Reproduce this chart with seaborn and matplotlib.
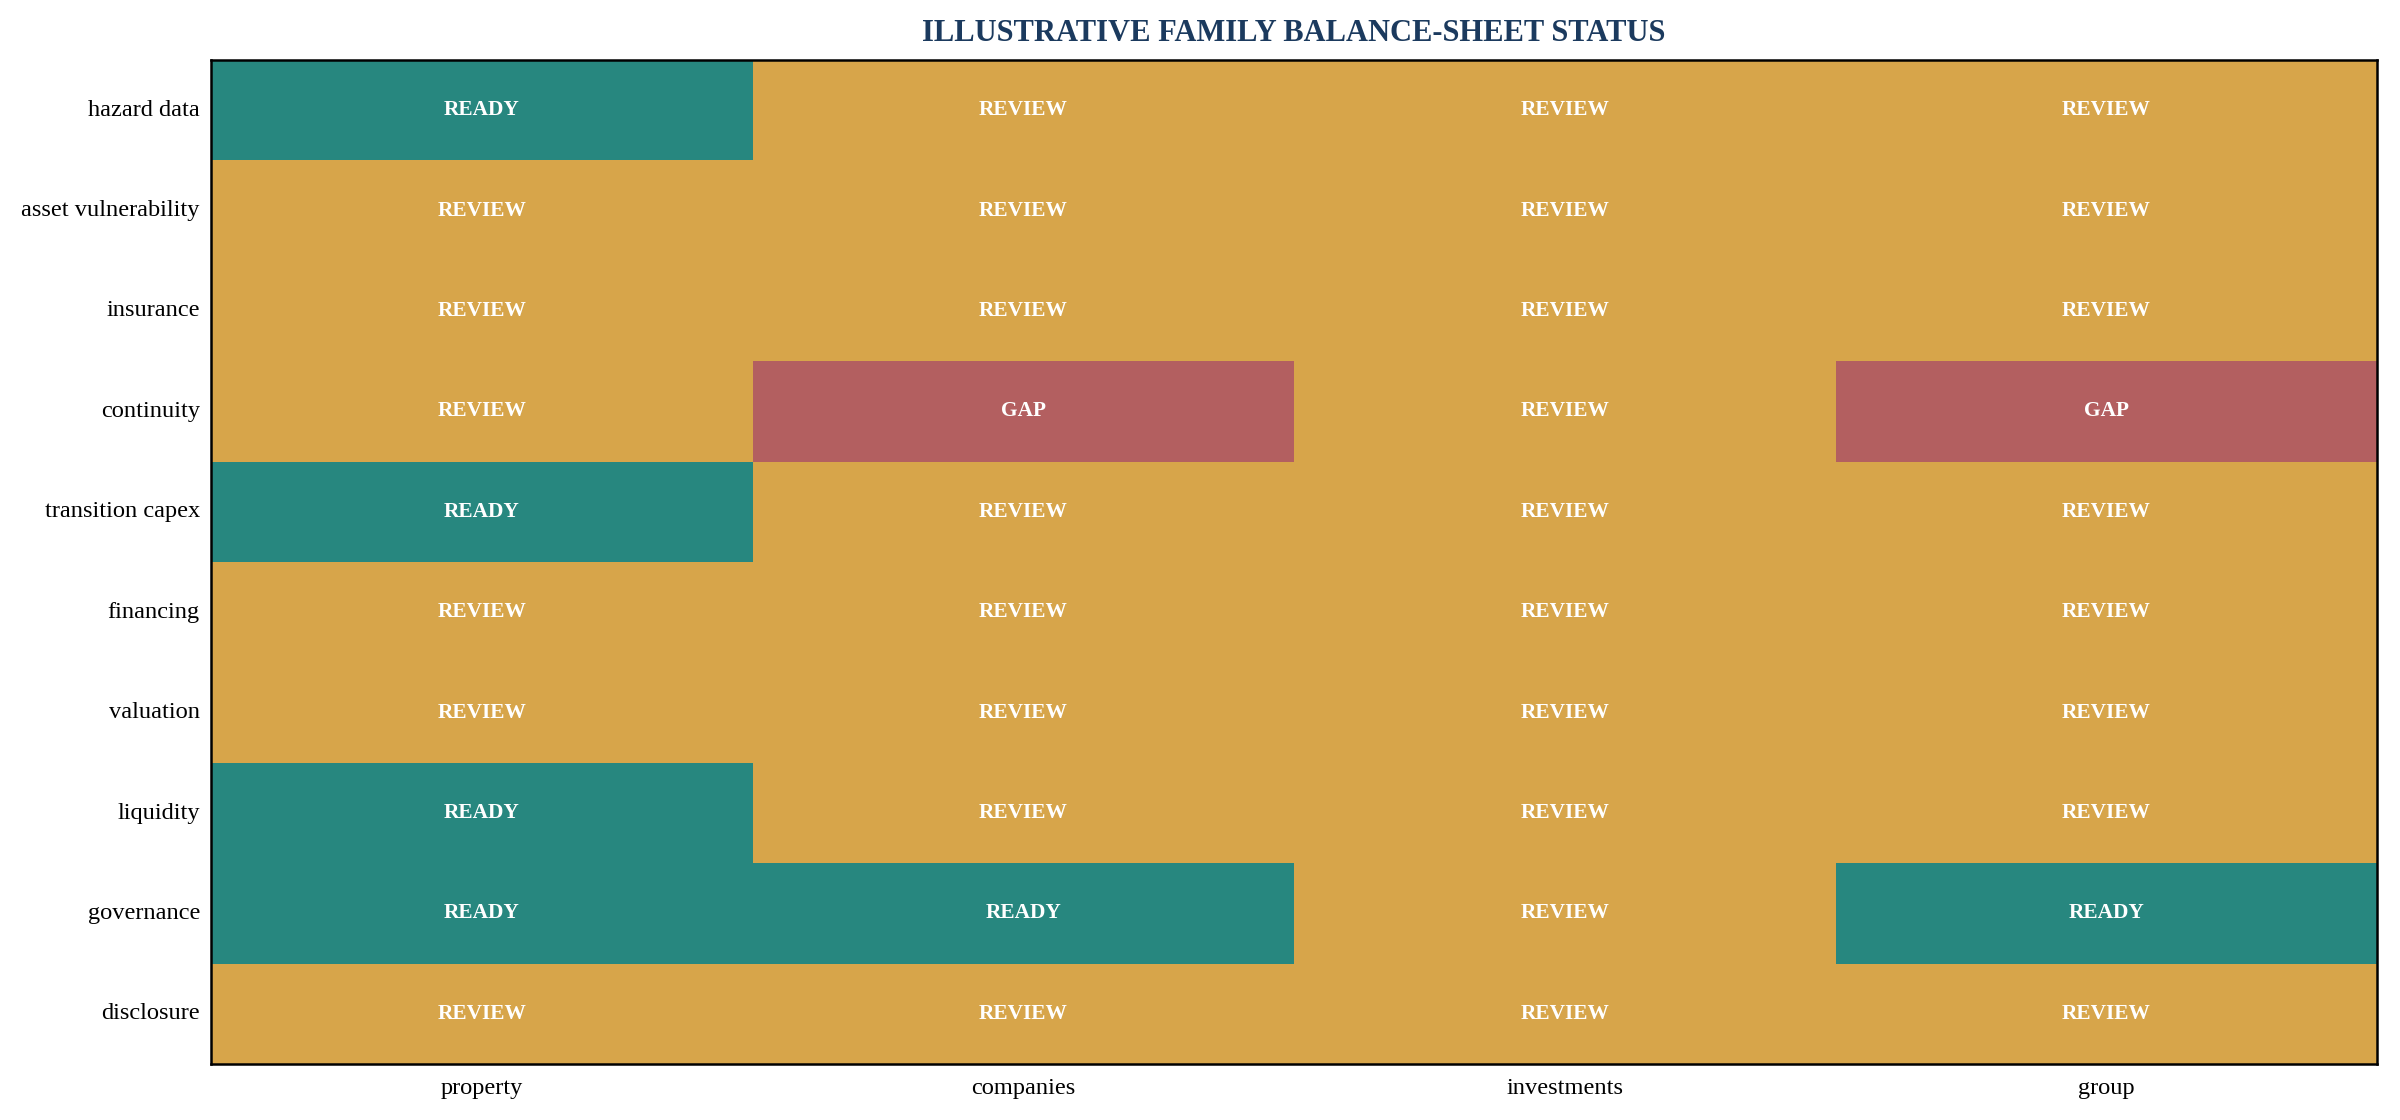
import numpy as np
import pandas as pd
import matplotlib
matplotlib.use("Agg")
import matplotlib.pyplot as plt
from matplotlib.colors import ListedColormap, BoundaryNorm
import seaborn as sns

rows = ["hazard data", "asset vulnerability", "insurance", "continuity",
        "transition capex", "financing", "valuation", "liquidity",
        "governance", "disclosure"]
cols = ["property", "companies", "investments", "group"]
status = [
    ["READY", "REVIEW", "REVIEW", "REVIEW"],
    ["REVIEW", "REVIEW", "REVIEW", "REVIEW"],
    ["REVIEW", "REVIEW", "REVIEW", "REVIEW"],
    ["REVIEW", "GAP", "REVIEW", "GAP"],
    ["READY", "REVIEW", "REVIEW", "REVIEW"],
    ["REVIEW", "REVIEW", "REVIEW", "REVIEW"],
    ["REVIEW", "REVIEW", "REVIEW", "REVIEW"],
    ["READY", "REVIEW", "REVIEW", "REVIEW"],
    ["READY", "READY", "REVIEW", "READY"],
    ["REVIEW", "REVIEW", "REVIEW", "REVIEW"],
]
levels = ["GAP", "REVIEW", "READY"]
level_colors = ["#B35F60", "#D7A54A", "#27877F"]
title = "ILLUSTRATIVE FAMILY BALANCE-SHEET STATUS"

sns.set_theme(style="white")
plt.rcParams["font.family"] = ["Liberation Serif", "DejaVu Serif"]

codes = pd.DataFrame([[levels.index(s) for s in r] for r in status],
                     index=rows, columns=cols)
labels = np.array(status)

fig = plt.figure(figsize=(12, 5.6), dpi=200)
ax = fig.add_axes([211 / 2400, 1 - 1064 / 1120, (2377 - 211) / 2400, (1064 - 60) / 1120])
cmap = ListedColormap(level_colors)
norm = BoundaryNorm([-0.5, 0.5, 1.5, 2.5], cmap.N)
sns.heatmap(codes, ax=ax, cmap=cmap, norm=norm, cbar=False,
            annot=labels, fmt="",
            annot_kws={"color": "white", "fontweight": "bold", "fontsize": 7.7})
ax.set_title(title, fontsize=11, fontweight="bold", color="#1B3A5E", pad=7)
ax.tick_params(axis="both", length=0, labelsize=8.8, colors="black")
ax.tick_params(axis="y", pad=4, rotation=0)
ax.tick_params(axis="x", pad=5, rotation=0)
ax.set_xlabel("")
ax.set_ylabel("")
for sp in ax.spines.values():
    sp.set_visible(True)
    sp.set_color("black")
    sp.set_linewidth(0.9)
fig.savefig("out.png", dpi=200)
